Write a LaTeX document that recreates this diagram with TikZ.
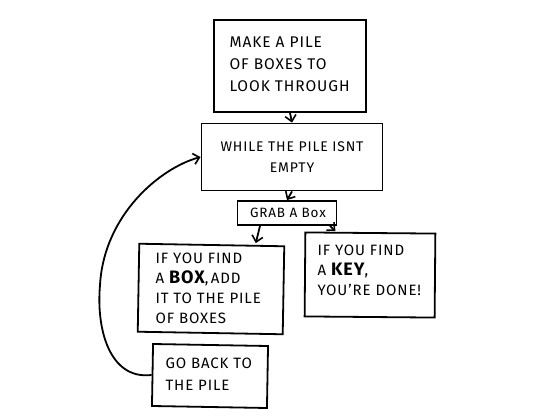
\documentclass[tikz,border=0pt]{standalone}
\usepackage{fontspec}
\setmainfont{Fira Sans}[LetterSpace=6]
\usetikzlibrary{arrows.meta}
\begin{document}
\begin{tikzpicture}[x=1pt,y=-1pt,
  box/.style={draw=black,line width=1.8pt,inner sep=0pt,fill=white},
  txt/.style={font=\fontsize{#1}{#1}\selectfont,align=left,anchor=west},
  arr/.style={-{Straight Barb[length=6pt,width=11pt,line width=1.6pt]},line width=1.8pt}]
\useasboundingbox (0,0) rectangle (542,420);
% boxes
\node[box,minimum width=152pt,minimum height=92pt] (make) at (290,66) {};
\node[box,minimum width=181pt,minimum height=67pt] (while) at (292,157) {};
\node[box,minimum width=99pt,minimum height=24pt] (grab) at (287,213) {};
\node[box,minimum width=145pt,minimum height=88pt,rotate=-1] (findbox) at (211,289) {};
\node[box,minimum width=130pt,minimum height=84pt,rotate=-0.5] (findkey) at (370,275) {};
\node[box,minimum width=115pt,minimum height=62pt,rotate=-1] (goback) at (210,376) {};
% texts
\node[txt=15.5,align=left,anchor=north west] (maket) at (226,33) {MAKE A PILE\\[6.5pt]OF BOXES TO\\[6.5pt]LOOK THROUGH};
\node[txt=14,align=center,anchor=center] (whilet) at (292,157) {WHILE THE PILE ISNT\\[7pt]EMPTY};
\node[txt=13.5,anchor=center] (grabt) at (288,213) {GRAB A Box};
\node[txt=15,align=left,anchor=north west] (findboxt) at (152,249) {IF YOU FIND\\[5pt]A {\fontsize{18}{18}\selectfont\bfseries BOX},\,ADD\\[5pt]IT TO THE PILE\\[5pt]OF BOXES};
\node[txt=15,align=left,anchor=north west] (findkeyt) at (314,241) {IF YOU FIND\\[5pt]A {\fontsize{18}{18}\selectfont\bfseries KEY},\\[5pt]YOU'RE DONE!};
\node[txt=15,align=left,anchor=north west] (gobackt) at (162,354) {GO BACK TO\\[7pt]THE PILE};
% connectors
\draw[arr] (make.south) -- (while.north);
\draw[arr] (while.south) -- (grab.north);
\draw[arr] ([xshift=-27pt]grab.south) -- ([xshift=44pt,yshift=1pt]findbox.north);
\draw[arr] ([xshift=43pt]grab.south) -- ([xshift=-35pt,yshift=1pt]findkey.north);
\coordinate (bend) at (100,285);
\draw[arr] (goback.west) .. controls (110,380) and (96,330) .. (bend) .. controls (104,215) and (160,168) .. (while.west);
\end{tikzpicture}
\end{document}
